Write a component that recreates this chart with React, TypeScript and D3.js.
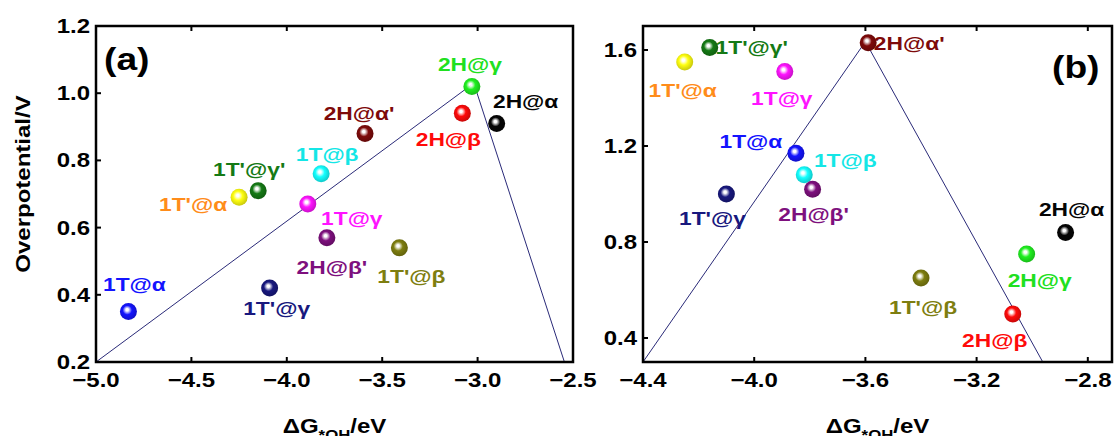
import React from 'react';
import * as d3 from 'd3';

// phases, in the same order for both panels
const phases = ["1T@α", "1T'@γ", "1T'@α", "1T'@γ'", "1T@γ", "1T@β", "2H@β'", "2H@α'", "1T'@β", "2H@β", "2H@γ", "2H@α"];

// panel (a)
const gA = [-4.83, -4.09, -4.25, -4.15, -3.89, -3.82, -3.79, -3.59, -3.41, -3.08, -3.03, -2.9];
const etaA = [0.35, 0.42, 0.69, 0.71, 0.67, 0.76, 0.57, 0.88, 0.54, 0.94, 1.02, 0.91];
const volcanoA = [[-5.0, 0.2], [-3.02, 1.03], [-2.545, 0.2]];
const xTicksA = [-5.0, -4.5, -4.0, -3.5, -3.0, -2.5];
const yTicksA = [0.2, 0.4, 0.6, 0.8, 1.0, 1.2];

// panel (b)
const gB = [-3.85, -4.1, -4.25, -4.16, -3.89, -3.82, -3.79, -3.59, -3.4, -3.07, -3.02, -2.88];
const etaB = [1.17, 1.0, 1.55, 1.61, 1.51, 1.08, 1.02, 1.63, 0.65, 0.5, 0.75, 0.84];
const volcanoB = [[-4.4, 0.3], [-3.6, 1.635], [-2.962, 0.3]];
const xTicksB = [-4.4, -4.0, -3.6, -3.2, -2.8];
const yTicksB = [0.4, 0.8, 1.2, 1.6];

// styling
const ballColors = ['#1414ff', '#18187e', '#ffff10', '#157a15', '#ff14ff', '#14ffff', '#7e107e', '#7e0a0a', '#7e7e10', '#ff0a0a', '#20f020', '#050505'];
const textColors = ['#1414ff', '#18187e', '#ff8c1a', '#157a15', '#ff14ff', '#14e6e6', '#7e107e', '#7e0a0a', '#7e7e10', '#ff0a0a', '#20e020', '#050505'];
// label offsets from the ball centre (px), per panel
const offA = [[6, -21], [7, 27], [-46, 14], [-9, -15], [44, 21], [6, -13], [5, 36], [-6, -14], [12, 35], [-14, 33], [-2, -15], [29, -15]];
const offB = [[-45, -5], [-14, 31], [-2, 35], [42, 6], [-3, 33], [41, -8], [1, 32], [41, 7], [2, 36], [-18, 33], [13, 33], [6, -16]];

const FONT = "'Liberation Sans', Arial, sans-serif";

function T({ x, y, size = 20, fill = '#000', anchor = 'middle', rotate = false, children }) {
  return (
    <g transform={`translate(${x},${y})${rotate ? ' rotate(-90)' : ''} scale(1.2,1)`}>
      <text textAnchor={anchor} fontSize={size} fontWeight="bold" fill={fill} fontFamily={FONT}>
        {children}
      </text>
    </g>
  );
}

function Panel({ id, left, right, xDomain, yDomain, xTicks, yTicks, g, eta, volcano, offs, tag, tagX, tagY, title }) {
  const top = 26, bottom = 362;
  const x = d3.scaleLinear().domain(xDomain).range([left, right]);
  const y = d3.scaleLinear().domain(yDomain).range([bottom, top]);
  const line = d3.line().x(d => x(d[0])).y(d => y(d[1]));
  const fmt = d3.format('.1f');
  const cx = (left + right) / 2;
  return (
    <g>
      <defs>
        <clipPath id={`clip-${id}`}>
          <rect x={left} y={top} width={right - left} height={bottom - top} />
        </clipPath>
      </defs>
      <path d={line(volcano)} fill="none" stroke="#2a2a78" strokeWidth={1} clipPath={`url(#clip-${id})`} />
      {xTicks.map(t => (
        <g key={'x' + t}>
          <line x1={x(t)} x2={x(t)} y1={bottom} y2={bottom - 5} stroke="#000" strokeWidth={2} />
          <line x1={x(t)} x2={x(t)} y1={top} y2={top + 5} stroke="#000" strokeWidth={2} />
          <T x={x(t)} y={387}>{fmt(t)}</T>
        </g>
      ))}
      {yTicks.map(t => (
        <g key={'y' + t}>
          <line x1={left} x2={left + 5} y1={y(t)} y2={y(t)} stroke="#000" strokeWidth={2} />
          <T x={left - 6} y={y(t) + 7} anchor="end">{fmt(t)}</T>
        </g>
      ))}
      <rect x={left} y={top} width={right - left} height={bottom - top} fill="none" stroke="#000" strokeWidth={2.5} />
      {g.map((v, i) => (
        <g key={phases[i]}>
          <circle cx={x(v)} cy={y(eta[i])} r={8.5} fill={`url(#ball${i})`} />
          <T x={x(v) + offs[i][0]} y={y(eta[i]) + offs[i][1]} size={19} fill={textColors[i]}>{phases[i]}</T>
        </g>
      ))}
      <T x={tagX} y={tagY} size={31} anchor="start">{tag}</T>
      <g transform={`translate(${cx},433) scale(1.2,1)`}>
        <text textAnchor="middle" fontSize={20} fontWeight="bold" fontFamily={FONT}>
          ΔG<tspan fontSize={14} dy={7}>*OH</tspan><tspan dy={-7}>/eV</tspan>
        </text>
      </g>
      {title && <T x={30} y={184} rotate>{title}</T>}
    </g>
  );
}

export default function App() {
  return (
    <svg width={1116} height={436} style={{ position: 'absolute', left: 0, top: 0, background: '#fff' }}>
      <defs>
        {ballColors.map((c, i) => (
          <radialGradient key={i} id={`ball${i}`} cx="0.45" cy="0.45" r="0.6" fx="0.42" fy="0.38">
            <stop offset="0" stopColor="#fff" />
            <stop offset="0.12" stopColor="#fff" stopOpacity={0.9} />
            <stop offset="0.45" stopColor={c} />
            <stop offset="1" stopColor={d3.color(c).darker(0.8).toString()} />
          </radialGradient>
        ))}
      </defs>
      <Panel id="a" left={96} right={573} xDomain={[-5.0, -2.5]} yDomain={[0.2, 1.2]} xTicks={xTicksA} yTicks={yTicksA}
        g={gA} eta={etaA} volcano={volcanoA} offs={offA} tag="(a)" tagX={104} tagY={70} title="Overpotential/V" />
      <Panel id="b" left={643} right={1112} xDomain={[-4.4, -2.713]} yDomain={[0.3, 1.7]} xTicks={xTicksB} yTicks={yTicksB}
        g={gB} eta={etaB} volcano={volcanoB} offs={offB} tag="(b)" tagX={1052} tagY={78} />
    </svg>
  );
}
